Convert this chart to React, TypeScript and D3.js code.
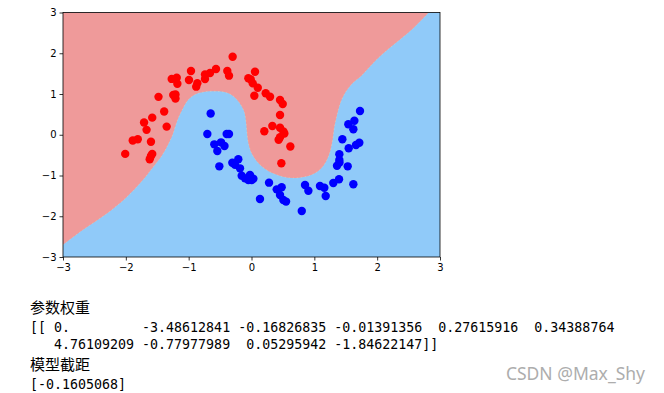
import React, { useEffect, useRef } from "react";
import * as d3 from "d3";

// class 0 (red) sample points
const redPoints: [number, number][] = [
  [-2.01, -0.47], [-1.89, -0.14], [-1.81, -0.11], [-1.71, 0.3], [-1.67, 0.12],
  [-1.6, -0.17], [-1.58, 0.42], [-1.58, -0.47], [-1.62, -0.6], [-1.6, -0.52],
  [-1.48, 0.93], [-1.39, 0.57], [-1.35, 0.2], [-1.27, 1.37], [-1.245, 0.975],
  [-1.21, 0.89], [-1.21, 0.99], [-1.19, 1.4], [-1.18, 1.25], [-0.995, 1.344],
  [-0.963, 1.564], [-0.88, 1.18], [-0.862, 1.262], [-0.74, 1.368], [-0.74, 1.48],
  [-0.66, 1.515], [-0.565, 1.613], [-0.385, 1.565], [-0.358, 1.45], [-0.3, 1.915],
  [-0.05, 1.385], [-0.013, 1.36], [0.056, 1.547], [0.02, 1.26], [0.1, 1.155],
  [0.045, 0.958], [0.226, 1.017], [0.295, 0.934], [0.454, 0.853], [0.497, 0.755],
  [0.454, 0.485], [0.332, 0.215], [0.204, 0.085], [0.454, 0.173], [0.507, 0.08],
  [0.523, 0.03], [0.432, -0.125], [0.454, -0.06], [0.618, -0.29], [0.475, -0.7],
];

// class 1 (blue) sample points
const bluePoints: [number, number][] = [
  [-0.65, 0.52], [-0.703, 0.018], [-0.395, 0.018], [-0.358, 0.018], [-0.592, -0.235],
  [-0.485, -0.186], [-0.43, -0.276], [-0.544, -0.4], [-0.512, -0.775], [-0.305, -0.686],
  [-0.21, -0.6], [-0.262, -0.74], [-0.183, -0.824], [-0.156, -1.004], [-0.103, -1.07],
  [-0.024, -0.988], [0.003, -1.11], [0.03, -1.08], [-0.05, -1.11], [0.279, -1.176],
  [0.135, -1.577], [0.401, -1.34], [0.48, -1.29], [0.454, -1.48], [0.507, -1.6],
  [0.55, -1.64], [0.8, -1.87], [0.852, -1.233], [0.905, -1.373], [1.09, -1.258],
  [1.159, -1.3], [1.181, -1.503], [1.302, -1.184], [1.393, -1.093], [1.621, -1.216],
  [1.361, -0.76], [1.398, -0.62], [1.398, -0.48], [1.531, -0.775], [1.547, -0.333],
  [1.663, -0.25], [1.716, -0.195], [1.446, -0.111], [1.541, 0.256], [1.621, 0.134],
  [1.637, 0.345], [1.727, 0.583], [1.4, -0.68],
];

// decision boundary, left edge -> top edge
const boundary: [number, number][] = [
  [-3, -2.7], [-2.68, -2.33], [-2.3, -1.93], [-2.0, -1.55], [-1.75, -1.15],
  [-1.58, -0.82], [-1.43, -0.52], [-1.33, -0.25], [-1.26, -0.02], [-1.18, 0.35],
  [-1.1, 0.62], [-1.0, 0.87], [-0.88, 1.0], [-0.72, 1.06], [-0.55, 1.065],
  [-0.42, 1.04], [-0.3, 0.96], [-0.19, 0.78], [-0.12, 0.58], [-0.09, 0.35],
  [-0.075, 0.1], [-0.05, -0.2], [0.0, -0.45], [0.09, -0.66], [0.2, -0.82],
  [0.35, -0.95], [0.5, -1.03], [0.66, -1.06], [0.85, -1.03], [1.0, -0.95],
  [1.1, -0.84], [1.19, -0.65], [1.25, -0.42], [1.29, -0.13], [1.32, 0.2],
  [1.36, 0.48], [1.41, 0.76], [1.48, 1.0], [1.6, 1.25], [1.75, 1.45],
  [1.95, 1.78], [2.1, 2.0], [2.36, 2.33], [2.58, 2.62], [2.82, 3.0],
];

const xTicks = [-3, -2, -1, 0, 1, 2, 3];
const yTicks = [-3, -2, -1, 0, 1, 2, 3];

// printed output below the figure
const textLines = [
  "参数权重",
  "[[ 0.         -3.48612841 -0.16826835 -0.01391356  0.27615916  0.34388764",
  "   4.76109209 -0.77977989  0.05295942 -1.84622147]]",
  "模型截距",
  "[-0.1605068]",
];

const App = () => {
  const ref = useRef<SVGSVGElement>(null);

  useEffect(() => {
    document.body.style.margin = "0";
    const svg = d3.select(ref.current);
    svg.selectAll("*").remove();

    const left = 63, right = 440, top = 12.5, bottom = 257;
    const x = d3.scaleLinear().domain([-3, 3]).range([left, right]);
    const y = d3.scaleLinear().domain([-3, 3]).range([bottom, top]);

    svg.append("rect").attr("width", 664).attr("height", 393).attr("fill", "#fff");

    const plot = svg.append("g");
    plot
      .append("rect")
      .attr("x", left)
      .attr("y", top)
      .attr("width", right - left)
      .attr("height", bottom - top)
      .attr("fill", "#90CAF9");

    const line = d3
      .line<[number, number]>()
      .x((d) => x(d[0]))
      .y((d) => y(d[1]))
      .curve(d3.curveCatmullRom);

    plot
      .append("path")
      .attr("d", line(boundary) + `L${x(-3)},${y(3)}Z`)
      .attr("fill", "#EF9A9A");

    plot
      .append("path")
      .attr("d", line(boundary))
      .attr("fill", "none")
      .attr("stroke", "#FFF59D")
      .attr("stroke-width", 0.6)
      .attr("stroke-opacity", 0.45)
      .attr("stroke-dasharray", "1.5,2.5");

    plot
      .append("g")
      .selectAll("circle")
      .data(redPoints)
      .enter()
      .append("circle")
      .attr("cx", (d) => x(d[0]))
      .attr("cy", (d) => y(d[1]))
      .attr("r", 4.2)
      .attr("fill", "#ff0000");

    plot
      .append("g")
      .selectAll("circle")
      .data(bluePoints)
      .enter()
      .append("circle")
      .attr("cx", (d) => x(d[0]))
      .attr("cy", (d) => y(d[1]))
      .attr("r", 4.2)
      .attr("fill", "#0000ff");

    // axes
    const fmt = (v: number) => (v < 0 ? "\u2212" + Math.abs(v) : String(v));
    const xAxis = d3.axisBottom(x).tickValues(xTicks).tickSize(3.5).tickPadding(3).tickFormat((d) => fmt(+d));
    const yAxis = d3.axisLeft(y).tickValues(yTicks).tickSize(3.5).tickPadding(3).tickFormat((d) => fmt(+d));

    const gx = svg.append("g").attr("transform", `translate(0,${bottom})`).call(xAxis);
    const gy = svg.append("g").attr("transform", `translate(${left},0)`).call(yAxis);
    [gx, gy].forEach((g) => {
      g.select(".domain").remove();
      g.selectAll("line").attr("stroke", "#000").attr("stroke-width", 0.8);
      g.selectAll("text")
        .attr("fill", "#000")
        .attr("font-family", "DejaVu Sans")
        .attr("font-size", 10);
    });

    svg
      .append("rect")
      .attr("x", left)
      .attr("y", top)
      .attr("width", right - left)
      .attr("height", bottom - top)
      .attr("fill", "none")
      .attr("stroke", "#000")
      .attr("stroke-width", 0.8);

    // console output
    const isCJK = (s: string) => /[\u4e00-\u9fff]/.test(s);
    const baselines = [313, 332, 349, 370, 389];
    svg
      .append("g")
      .selectAll("text")
      .data(textLines)
      .enter()
      .append("text")
      .attr("x", 30)
      .attr("y", (_, i) => baselines[i])
      .attr("xml:space", "preserve")
      .style("white-space", "pre")
      .attr("font-family", (d) => (isCJK(d) ? "Noto Sans CJK SC" : "DejaVu Sans Mono"))
      .attr("font-size", (d) => (isCJK(d) ? 15 : 13.3))
      .attr("fill", "#000")
      .text((d) => d);

    svg
      .append("text")
      .attr("x", 645)
      .attr("y", 380)
      .attr("text-anchor", "end")
      .attr("font-family", "Noto Sans")
      .attr("font-size", 17.5)
      .attr("fill", "#adadad")
      .text("CSDN @Max_Shy");
  }, []);

  return <svg ref={ref} width={664} height={393} style={{ position: "absolute", left: 0, top: 0 }} />;
};

export default App;
